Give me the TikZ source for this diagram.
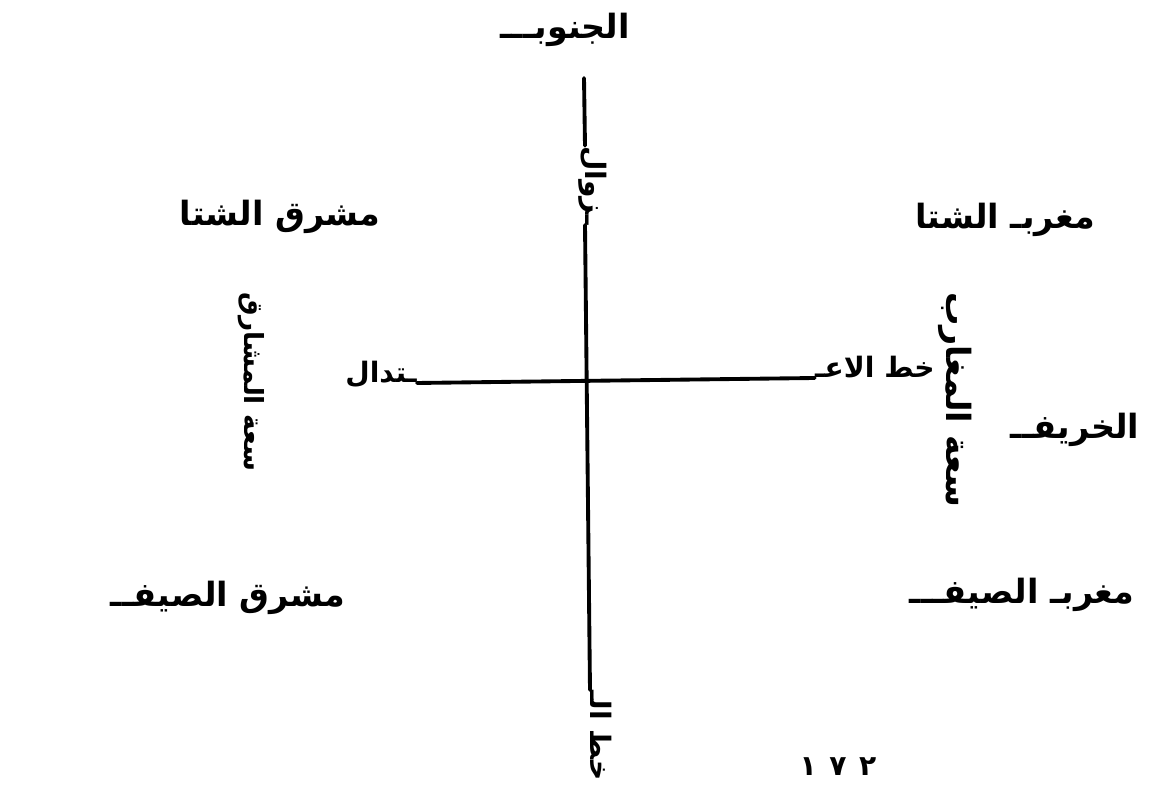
\documentclass[tikz,border=0pt]{standalone}
\usepackage{fontspec}
\newfontfamily\arabicfont[Script=Arabic]{DejaVu Sans}
\newfontfamily\digitfont[LetterSpace=45]{DejaVu Sans}
\TeXXeTstate=1
\usepackage{tikz}

\begin{document}
\begin{tikzpicture}[
    x=0.02cm, y=-0.02cm,
    font=\arabicfont\bfseries\fontsize{19}{23}\selectfont,
    lbl/.style={inner sep=0pt},
    vlbl/.style={lbl, rotate=-90, anchor=base},
    small/.style={font=\arabicfont\bfseries\fontsize{16}{20}\selectfont},
    axis/.style={line width=2.2pt, line cap=round},
  ]
    \useasboundingbox (0,0) rectangle (1174,786);

    \node[lbl] (south)  at (565,30)   {\beginR الجنوبـــ\endR};
    \node[lbl] (wrise)  at (280,217)  {\beginR مشرق الشتا\endR};
    \node[lbl] (wset)   at (1005,220) {\beginR مغربـ الشتا\endR};
    \node[lbl] (autumn) at (1075,430) {\beginR الخريفــ\endR};
    \node[lbl] (srise)  at (228,598)  {\beginR مشرق الصيفــ\endR};
    \node[lbl] (sset)   at (1022,595) {\beginR مغربـ الصيفـــ\endR};

    \node[vlbl, font=\arabicfont\bfseries\fontsize{15}{19}\selectfont] (ampeast) at (244,382) {\beginR سعة المشارق\endR};
    \node[vlbl] (ampwest) at (946,400) {\beginR سعة المغارب\endR};

    \node[lbl, small, anchor=base west] (eqleft)  at (345,383) {\beginR ـتدال\endR};
    \node[lbl, small, anchor=base east] (eqright) at (935,378) {\beginR خط الاعـ\endR};
    \draw[axis] (eqleft.base east) -- (eqright.base west);

    \coordinate (mtop) at (584,78);
    \node[vlbl, small, anchor=base east] (zawal) at (585,225) {\beginR ـزوال\endR};
    \node[vlbl, small, anchor=base west] (khat)  at (590,690) {\beginR خط الـ\endR};
    \draw[axis] (mtop) -- (zawal.base west);
    \draw[axis] (zawal.base east) -- (khat.base west);

    \node[lbl, anchor=south, font=\digitfont\bfseries\fontsize{16}{18}\selectfont] (page) at (838,776) {١٧٢};
\end{tikzpicture}
\end{document}
